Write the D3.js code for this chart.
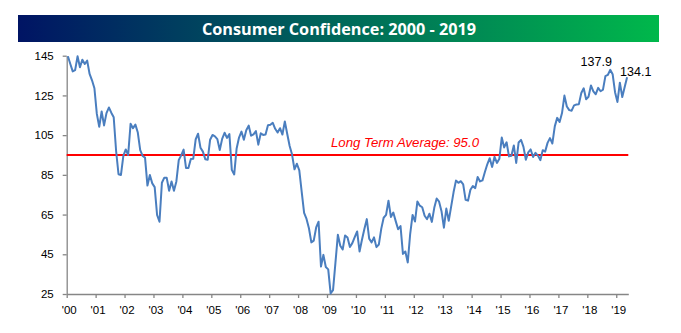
<!DOCTYPE html>
<html>
<head>
<meta charset="utf-8">
<script src="https://cdn.jsdelivr.net/npm/d3@7"></script>
<style>
  html, body { margin: 0; padding: 0; background: #fff; }
  svg { display: block; }
</style>
</head>
<body>
<svg id="chart" width="681" height="333"></svg>
<script>
const title = "Consumer Confidence: 2000 - 2019";
const startYear = 2000;
const yearLabels = ["'00","'01","'02","'03","'04","'05","'06","'07","'08","'09","'10","'11","'12","'13","'14","'15","'16","'17","'18","'19"];
const yTicks = [25, 45, 65, 85, 105, 125, 145];
const longTermAverage = 95.0;
const averageLabel = "Long Term Average: 95.0";

// Monthly values, Jan 2000 – May 2019
const v2000 = [144.7,140.8,137.1,137.7,144.7,139.2,143.0,140.8,142.5,135.8,132.6,128.6];
const v2001 = [115.7,109.2,116.9,109.9,116.1,118.9,116.3,114.0,97.0,85.3,84.9,94.6];
const v2002 = [97.8,95.0,110.7,108.5,110.3,106.3,97.4,94.5,93.7,79.6,84.9,80.7];
const v2003 = [78.8,64.8,61.4,81.0,83.6,83.5,77.0,81.7,77.0,81.7,92.5,94.8];
const v2004 = [97.7,88.5,88.5,93.0,93.1,102.8,105.7,98.7,96.7,92.9,92.6,102.7];
const v2005 = [105.1,104.4,103.0,97.5,103.1,106.2,103.6,105.5,87.5,85.2,98.3,103.8];
const v2006 = [106.8,102.7,107.5,109.8,104.7,105.4,107.0,100.2,105.9,105.1,105.3,110.0];
const v2007 = [110.2,111.2,108.2,106.3,108.5,105.3,111.9,105.6,99.5,95.2,87.8,90.6];
const v2008 = [87.3,76.4,65.9,62.8,58.1,51.0,51.9,58.5,61.4,38.8,44.7,38.6];
const v2009 = [37.4,25.3,26.9,40.8,54.8,49.3,47.4,54.5,53.4,48.7,50.6,53.6];
const v2010 = [56.5,46.4,52.3,57.7,62.7,52.9,51.0,53.5,48.6,49.9,57.8,63.4];
const v2011 = [64.8,72.0,63.8,66.0,61.7,57.6,59.2,45.2,46.4,40.9,55.2,64.8];
const v2012 = [61.5,71.6,69.5,68.7,64.4,62.7,65.4,61.3,68.4,73.1,71.5,66.7];
const v2013 = [58.4,68.0,61.9,69.0,76.2,82.1,81.0,81.8,80.2,72.4,72.0,77.5];
const v2014 = [79.4,78.3,83.9,81.7,82.2,86.4,90.3,93.4,89.0,94.1,91.0,93.1];
const v2015 = [103.8,98.8,101.4,94.3,94.6,99.8,91.0,101.3,102.6,99.1,92.6,96.3];
const v2016 = [97.8,94.0,96.1,94.7,92.4,97.4,96.7,101.1,103.5,100.8,109.4,113.7];
const v2017 = [111.6,116.1,124.9,119.4,117.6,117.3,120.0,120.4,120.6,126.2,128.6,123.1];
const v2018 = [124.3,130.0,127.0,125.6,128.8,127.1,127.9,134.7,135.3,137.9,135.7,126.6];
const v2019 = [121.7,131.4,124.2,129.2,134.1];

const values = [].concat(v2000,v2001,v2002,v2003,v2004,v2005,v2006,v2007,v2008,v2009,
  v2010,v2011,v2012,v2013,v2014,v2015,v2016,v2017,v2018,v2019);

const svg = d3.select("#chart");

// Title banner
const defs = svg.append("defs");
const grad = defs.append("linearGradient").attr("id","tg").attr("x1","0%").attr("x2","100%");
grad.append("stop").attr("offset","0%").attr("stop-color","#001464");
grad.append("stop").attr("offset","50%").attr("stop-color","#00685a");
grad.append("stop").attr("offset","100%").attr("stop-color","#00b84b");
svg.append("rect").attr("x",18).attr("y",15).attr("width",641).attr("height",27).attr("fill","url(#tg)");
svg.append("text").attr("x",339).attr("y",34.5).attr("text-anchor","middle")
  .attr("fill","#fff").attr("font-family","Open Sans, sans-serif").attr("font-weight","bold")
  .attr("font-size",15.5).attr("textLength",274).attr("lengthAdjust","spacingAndGlyphs").text(title);

const nMonths = 233;
const x = d3.scaleLinear().domain([0, nMonths]).range([66.7, 628.3]);
const y = d3.scaleLinear().domain([25, 145]).range([294, 55.7]);

const axisColor = "#868686";
const fontFam = "Liberation Sans, Arial, sans-serif";

// Y axis
const yAxis = svg.append("g").attr("transform",`translate(${x(0)},0)`)
  .call(d3.axisLeft(y).tickValues(yTicks).tickSize(4).tickSizeOuter(0).tickPadding(9));
// X axis
const xAxis = svg.append("g").attr("transform",`translate(0,${y(25)})`)
  .call(d3.axisBottom(x).tickValues(yearLabels.map((d,i)=>i*12))
    .tickFormat((d,i)=>yearLabels[i]).tickSize(4).tickSizeOuter(0).tickPadding(8));
[yAxis, xAxis].forEach(g => {
  g.select(".domain").attr("stroke",axisColor).attr("stroke-width",1.3);
  g.selectAll(".tick line").attr("stroke",axisColor).attr("stroke-width",1.3);
  g.selectAll(".tick text").attr("fill","#000").attr("font-family",fontFam).attr("font-size",11.5);
});
xAxis.selectAll(".tick text").attr("dx", 2);

// Long term average line
svg.append("line").attr("x1",x(0)).attr("x2",x(nMonths))
  .attr("y1",y(longTermAverage)).attr("y2",y(longTermAverage))
  .attr("stroke","#ff0000").attr("stroke-width",2);
svg.append("text").attr("x",331).attr("y",147).attr("fill","#ff0000")
  .attr("font-family",fontFam).attr("font-style","italic").attr("font-size",13)
  .attr("textLength",148).attr("lengthAdjust","spacingAndGlyphs").text(averageLabel);

// Series line
const line = d3.line().x((d,i)=>x(i+0.5)).y(d=>y(d));
svg.append("path").datum(values).attr("d",line).attr("fill","none")
  .attr("stroke","#4a7ebf").attr("stroke-width",2).attr("stroke-linejoin","round");

// Annotations
const maxIdx = values.indexOf(d3.max(values.slice(200)), 200);
const lastIdx = values.length - 1;
svg.append("text").attr("x",x(maxIdx+0.5)-14).attr("y",y(values[maxIdx])-3.5)
  .attr("text-anchor","middle").attr("font-family",fontFam).attr("font-size",12.5)
  .attr("fill","#000").text(values[maxIdx].toFixed(1));
svg.append("text").attr("x",x(lastIdx+0.5)-7).attr("y",y(values[lastIdx])-1.5)
  .attr("text-anchor","start").attr("font-family",fontFam).attr("font-size",12.5)
  .attr("fill","#000").text(values[lastIdx].toFixed(1));
</script>
</body>
</html>
